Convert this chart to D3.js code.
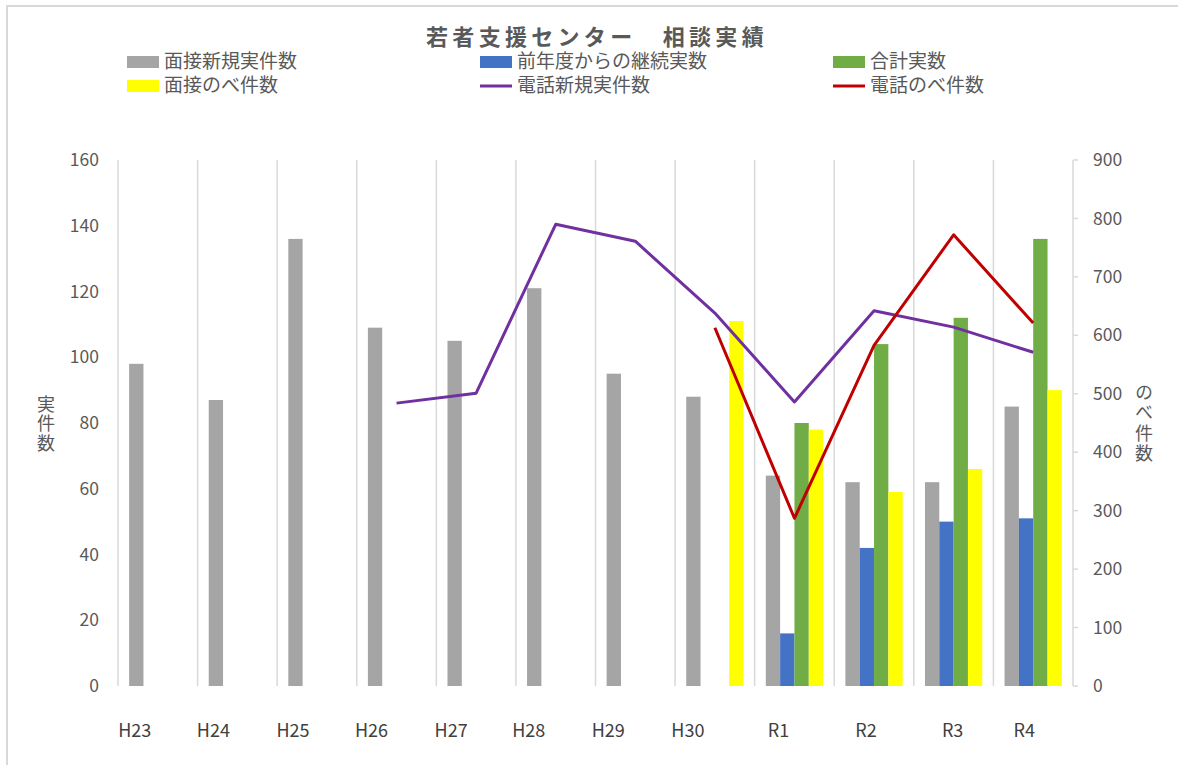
<!DOCTYPE html>
<html>
<head>
<meta charset="utf-8">
<title>若者支援センター 相談実績</title>
<script src="https://d3js.org/d3.v7.min.js"></script>
<style>
    body { margin: 0; background: white; }
    text { font-family: "Noto Sans CJK JP", "Noto Sans", sans-serif; }
</style>
</head>
<body>
<div id="chart"></div>
<script>
// categories (fiscal years)
var years = ["H23", "H24", "H25", "H26", "H27", "H28", "H29", "H30", "R1", "R2", "R3", "R4"];

// bar series (left axis, 実件数)
var faceNew    = [98, 87, 136, 109, 105, 121, 95, 88, 64, 62, 62, 85];
var carryOver  = [null, null, null, null, null, null, null, null, 16, 42, 50, 51];
var totalReal  = [null, null, null, null, null, null, null, null, 80, 104, 112, 136];
var faceTotal  = [null, null, null, null, null, null, null, 111, 78, 59, 66, 90];

// line series (right axis, のべ件数)
var phoneNew   = [null, null, null, 484, 501, 790, 761, 638, 486, 642, 614, 571];
var phoneTotal = [null, null, null, null, null, null, null, 613, 287, 583, 772, 621];

var leftTicks  = [0, 20, 40, 60, 80, 100, 120, 140, 160];
var rightTicks = [0, 100, 200, 300, 400, 500, 600, 700, 800, 900];

// label nudges as seen in the original (px, relative to band centre)
var labelNudge = [-23, -24, -24, -25, -25, -27, -27, -27, -16, -8, -1, -9];

var barSeries = [
    {name: "面接新規実件数", values: faceNew, color: "#a5a5a5"},
    {name: "前年度からの継続実数", values: carryOver, color: "#4472c4"},
    {name: "合計実数", values: totalReal, color: "#70ad47"},
    {name: "面接のべ件数", values: faceTotal, color: "#ffff00"}
];
var lineSeries = [
    {name: "電話新規実件数", values: phoneNew, color: "#7030a0"},
    {name: "電話のべ件数", values: phoneTotal, color: "#c00000"}
];

var width = 1178, height = 765;
var plot = {left: 118, right: 1073, top: 160, bottom: 686};
var textColor = "#595959";

var svg = d3.select("#chart").append("svg")
            .attr("width", width)
            .attr("height", height);

// outer frame
svg.append("rect")
   .attr("x", 7).attr("y", 6)
   .attr("width", 1200).attr("height", 800)
   .attr("fill", "white")
   .attr("stroke", "#d9d9d9")
   .attr("stroke-width", 2);

var x = d3.scaleBand().domain(years).range([plot.left, plot.right]).padding(0);
var bw = x.bandwidth();
var inner = d3.scaleBand().domain(d3.range(barSeries.length))
              .range([bw * 0.14, bw * 0.86]).padding(0);
var yL = d3.scaleLinear().domain([0, 160]).range([plot.bottom, plot.top]);
var yR = d3.scaleLinear().domain([0, 900]).range([plot.bottom, plot.top]);

// vertical category gridlines
var edges = years.map(function(d){ return x(d); }).concat([plot.right]);
svg.append("g").selectAll("line").data(edges).enter().append("line")
   .attr("x1", function(d){ return d; }).attr("x2", function(d){ return d; })
   .attr("y1", plot.top).attr("y2", plot.bottom)
   .attr("stroke", "#d9d9d9").attr("stroke-width", 1.5);

// right axis ticks
svg.append("g").selectAll("line").data(rightTicks).enter().append("line")
   .attr("x1", plot.right).attr("x2", plot.right + 5)
   .attr("y1", function(d){ return yR(d); }).attr("y2", function(d){ return yR(d); })
   .attr("stroke", "#d9d9d9").attr("stroke-width", 1.5);

// bars
barSeries.forEach(function(s, si){
    svg.append("g").selectAll("rect")
       .data(years.map(function(y, i){ return {year: y, v: s.values[i]}; })
                  .filter(function(d){ return d.v != null; }))
       .enter().append("rect")
       .attr("x", function(d){ return x(d.year) + inner(si); })
       .attr("width", inner.bandwidth())
       .attr("y", function(d){ return yL(d.v); })
       .attr("height", function(d){ return yL(0) - yL(d.v); })
       .attr("fill", s.color);
});

// lines
lineSeries.forEach(function(s){
    var line = d3.line()
        .defined(function(d){ return d != null; })
        .x(function(d, i){ return x(years[i]) + bw / 2; })
        .y(function(d){ return yR(d); });
    svg.append("path")
       .attr("d", line(s.values))
       .attr("fill", "none")
       .attr("stroke", s.color)
       .attr("stroke-width", 3)
       .attr("stroke-linejoin", "round");
});

// left tick labels
svg.append("g").selectAll("text").data(leftTicks).enter().append("text")
   .attr("x", 99)
   .attr("y", function(d){ return yL(d); })
   .attr("dy", "0.35em")
   .attr("text-anchor", "end")
   .attr("font-size", 17.5)
   .attr("fill", textColor)
   .text(function(d){ return d; });

// right tick labels
svg.append("g").selectAll("text").data(rightTicks).enter().append("text")
   .attr("x", 1093)
   .attr("y", function(d){ return yR(d); })
   .attr("dy", "0.35em")
   .attr("text-anchor", "start")
   .attr("font-size", 17.5)
   .attr("fill", textColor)
   .text(function(d){ return d; });

// category labels
svg.append("g").selectAll("text").data(years).enter().append("text")
   .attr("x", function(d, i){ return x(d) + bw / 2 + labelNudge[i]; })
   .attr("y", 737)
   .attr("text-anchor", "middle")
   .attr("font-size", 18)
   .attr("fill", "#404040")
   .text(function(d){ return d; });

// stacked (vertical writing) axis titles
function stacked(label, cx, top, spacing)
{
    svg.append("text")
       .attr("x", cx)
       .attr("y", top)
       .attr("writing-mode", "vertical-rl")
       .attr("text-anchor", "start")
       .attr("letter-spacing", spacing)
       .attr("font-size", 18)
       .attr("fill", textColor)
       .text(label);
}
stacked("実件数", 46, 395, 1.5);
stacked("のべ件数", 1144, 383, 2.5);

// title
svg.append("text")
   .attr("x", 597)
   .attr("y", 37)
   .attr("dy", "0.35em")
   .attr("text-anchor", "middle")
   .attr("font-size", 22)
   .attr("font-weight", "bold")
   .attr("letter-spacing", 4.3)
   .attr("fill", textColor)
   .text("若者支援センター　相談実績");

// legend
var legendItems = [
    {s: barSeries[0], type: "bar", col: 0, row: 0},
    {s: barSeries[1], type: "bar", col: 1, row: 0},
    {s: barSeries[2], type: "bar", col: 2, row: 0},
    {s: barSeries[3], type: "bar", col: 0, row: 1},
    {s: lineSeries[0], type: "line", col: 1, row: 1},
    {s: lineSeries[1], type: "line", col: 2, row: 1}
];
var legendCols = [127, 480, 833];
var legendRows = [62, 86];
var lg = svg.append("g");
legendItems.forEach(function(it){
    var lx = legendCols[it.col], ly = legendRows[it.row];
    if(it.type == "bar")
        lg.append("rect").attr("x", lx).attr("y", ly - 6)
          .attr("width", 32).attr("height", 12).attr("fill", it.s.color);
    else
        lg.append("line").attr("x1", lx).attr("x2", lx + 32)
          .attr("y1", ly).attr("y2", ly)
          .attr("stroke", it.s.color).attr("stroke-width", 3);
    lg.append("text").attr("x", lx + 37).attr("y", ly - 1)
      .attr("dy", "0.35em")
      .attr("font-size", 19)
      .attr("fill", textColor)
      .text(it.s.name);
});
</script>
</body>
</html>
